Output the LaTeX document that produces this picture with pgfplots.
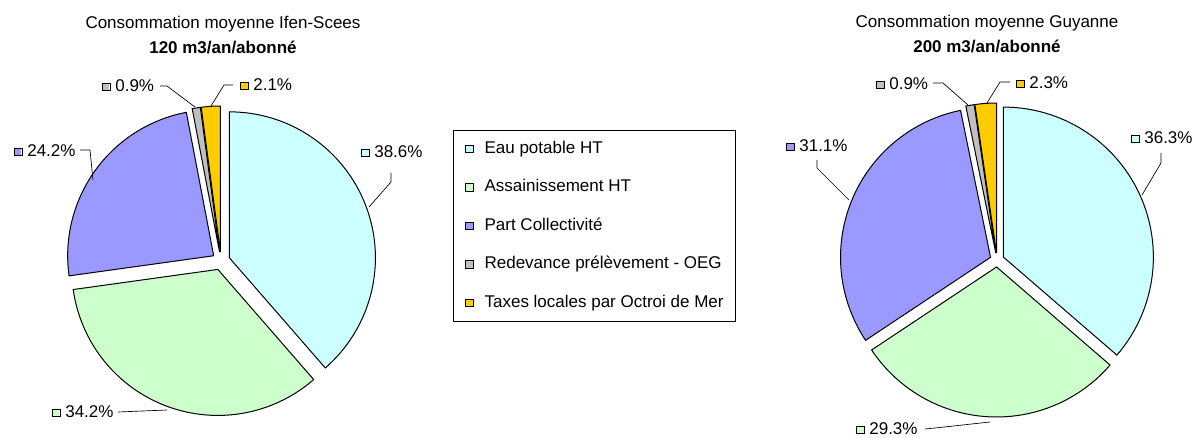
\documentclass[border=0pt]{standalone}
\usepackage{pgfplots}
\pgfplotsset{compat=1.18}
\usepackage{fontspec}
\setmainfont{Liberation Sans}
\definecolor{cEau}{HTML}{CCFFFF}
\definecolor{cAss}{HTML}{CCFFCC}
\definecolor{cPart}{HTML}{9999FF}
\definecolor{cRed}{HTML}{C0C0C0}
\definecolor{cTax}{HTML}{FFCC00}
% #1 cx, #2 cy, #3 r, #4 explode, #5 cumulative start, #6 cumulative end, #7 colour, #8 total, #9 extra options
\newcommand\slice[9]{%
  \pgfmathsetmacro\kk{360/#8}%
  \pgfmathsetmacro\aa{90-\kk*#6}%
  \pgfmathsetmacro\bb{90-\kk*#5}%
  \pgfmathsetmacro\mm{(\aa+\bb)/2}%
  \pgfmathsetmacro\ox{#1+#4*cos(\mm)}%
  \pgfmathsetmacro\oy{#2+#4*sin(\mm)}%
  \edef\doslice{\noexpand\addplot[fill=#7, draw=black, line width=0.6pt, domain=\aa:\bb, samples=90, #9] ({\ox+#3*cos(x)},{\oy+#3*sin(x)}) -- (axis cs:\ox,\oy) -- cycle;}%
  \doslice
}
\newcommand\key[1]{{\setlength{\fboxsep}{0pt}\setlength{\fboxrule}{0.5pt}\raisebox{0.9pt}{\fcolorbox{black}{#1}{\rule{0pt}{4.1pt}\rule{4.1pt}{0pt}}}}\hspace{3pt}}
\begin{document}
\fontsize{10.2}{12}\selectfont
\begin{tikzpicture}
\begin{axis}[
  name=main,
  scale only axis, width=717pt, height=262.2pt,
  xmin=0, xmax=1195, ymin=0, ymax=437,
  hide axis, clip=false,
  legend style={at={(axis cs:453,307)}, anchor=north west, draw=black, line width=0.5pt,
    fill=white, inner xsep=7pt, inner ysep=6.5pt, row sep=14pt, column sep=6.6pt,
    nodes={inner sep=0pt, text height=7.3pt, text depth=1.8pt, anchor=west}},
  legend cell align=left,
  legend image code/.code={\draw[#1, line width=0.5pt] (0pt,-2.3pt) rectangle (4.6pt,2.3pt);},
]
% ---- left pie: Ifen-Scees (values in %)
\slice{221}{176}{146}{9}{0}{38.6}{cEau}{100}{}
\addlegendentry{Eau potable HT}
\slice{221}{176}{146}{9}{38.6}{72.8}{cAss}{100}{}
\addlegendentry{Assainissement HT}
\slice{221}{176}{146}{9}{72.8}{97.0}{cPart}{100}{}
\addlegendentry{Part Collectivité}
\slice{221}{176}{146}{9}{97.0}{97.9}{cRed}{100}{}
\addlegendentry{Redevance prélèvement - OEG}
\slice{221}{176}{146}{9}{97.9}{100.0}{cTax}{100}{}
\addlegendentry{Taxes locales par Octroi de Mer}
% ---- right pie: Guyanne
\slice{997}{177}{150}{7}{0}{36.3}{cEau}{99.9}{forget plot}
\slice{997}{177}{150}{7}{36.3}{65.6}{cAss}{99.9}{forget plot}
\slice{997}{177}{150}{7}{65.6}{96.7}{cPart}{99.9}{forget plot}
\slice{997}{177}{150}{7}{96.7}{97.6}{cRed}{99.9}{forget plot}
\slice{997}{177}{150}{7}{97.6}{99.9}{cTax}{99.9}{forget plot}
% titles
\node at (axis cs:223,413) {Consommation moyenne Ifen-Scees};
\node at (axis cs:223,390) {\bfseries 120 m3/an/abonné};
\node at (axis cs:987,414) {Consommation moyenne Guyanne};
\node at (axis cs:987,391) {\bfseries 200 m3/an/abonné};
% data labels, left
\node[anchor=west, inner sep=0pt] at (axis cs:360.5,285) {\key{cEau}38.6\%};
\node[anchor=west, inner sep=0pt] at (axis cs:51.5,25) {\key{cAss}34.2\%};
\node[anchor=west, inner sep=0pt] at (axis cs:13.5,286) {\key{cPart}24.2\%};
\node[anchor=west, inner sep=0pt] at (axis cs:101.5,351) {\key{cRed}0.9\%};
\node[anchor=west, inner sep=0pt] at (axis cs:239.5,352) {\key{cTax}2.1\%};
\draw[line width=0.4pt] (axis cs:391,264) -- (axis cs:391,255) -- (axis cs:369,230);
\draw[line width=0.4pt] (axis cs:118,25) -- (axis cs:167,27);
\draw[line width=0.4pt] (axis cs:80,287) -- (axis cs:90,287) -- (axis cs:93,257);
\draw[line width=0.4pt] (axis cs:160,351) -- (axis cs:167,351) -- (axis cs:195,330);
\draw[line width=0.4pt] (axis cs:233,352) -- (axis cs:224,352) -- (axis cs:211,331);
% data labels, right
\node[anchor=west, inner sep=0pt] at (axis cs:1130.5,299) {\key{cEau}36.3\%};
\node[anchor=west, inner sep=0pt] at (axis cs:855.5,8) {\key{cAss}29.3\%};
\node[anchor=west, inner sep=0pt] at (axis cs:785.5,291) {\key{cPart}31.1\%};
\node[anchor=west, inner sep=0pt] at (axis cs:875.5,353) {\key{cRed}0.9\%};
\node[anchor=west, inner sep=0pt] at (axis cs:1015.5,354) {\key{cTax}2.3\%};
\draw[line width=0.4pt] (axis cs:1161,284) -- (axis cs:1161,274) -- (axis cs:1142,242);
\draw[line width=0.4pt] (axis cs:925,8) -- (axis cs:935,9) -- (axis cs:990,15);
\draw[line width=0.4pt] (axis cs:817,277) -- (axis cs:817,269) -- (axis cs:849,237);
\draw[line width=0.4pt] (axis cs:933,354) -- (axis cs:943,354) -- (axis cs:968,332);
\draw[line width=0.4pt] (axis cs:1010,355) -- (axis cs:1000,355) -- (axis cs:987,334);
\end{axis}
\pgfresetboundingbox
\useasboundingbox (main.south west) rectangle (main.north east);
\end{tikzpicture}
\end{document}
